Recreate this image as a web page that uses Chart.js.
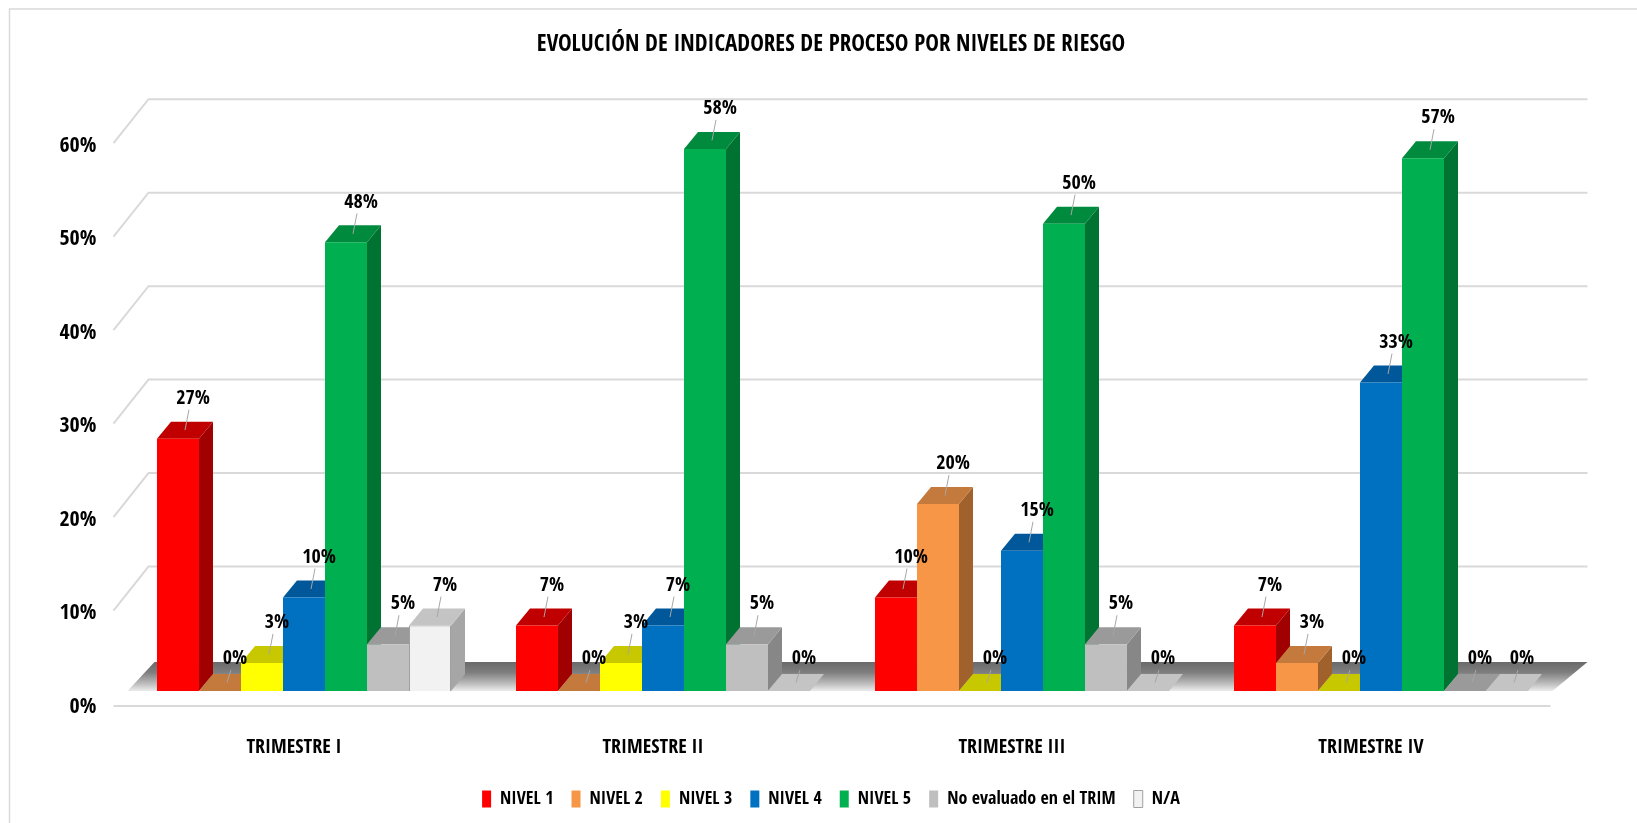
<!DOCTYPE html>
<html><head><meta charset="utf-8">
<script src="https://cdn.jsdelivr.net/npm/chart.js@4.4.0/dist/chart.umd.min.js"></script>
<style>html,body{margin:0;padding:0;background:#fff;overflow:hidden}#wrap{width:1637px;height:823px;position:relative}</style>
</head><body><div id="wrap"><canvas id="c" width="1637" height="823"></canvas></div>
<script>
// ---- data ----
const categories = ['TRIMESTRE I', 'TRIMESTRE II', 'TRIMESTRE III', 'TRIMESTRE IV'];
const seriesNames = ['NIVEL 1', 'NIVEL 2', 'NIVEL 3', 'NIVEL 4', 'NIVEL 5', 'No evaluado en el TRIM', 'N/A'];
const nivel1 = [0.27, 0.07, 0.10, 0.07];
const nivel2 = [0.00, 0.00, 0.20, 0.03];
const nivel3 = [0.03, 0.03, 0.00, 0.00];
const nivel4 = [0.10, 0.07, 0.15, 0.33];
const nivel5 = [0.48, 0.58, 0.50, 0.57];
const noEvaluado = [0.05, 0.05, 0.05, 0.00];
const noAplica = [0.07, 0.00, 0.00, 0.00];
const yTickValues = [0, 0.1, 0.2, 0.3, 0.4, 0.5, 0.6];
const titleText = 'EVOLUCIÓN DE INDICADORES DE PROCESO POR NIVELES DE RIESGO';

// ---- styles ----
const FONT = "'Open Sans Condensed', 'Roboto Condensed', 'DejaVu Sans Condensed', sans-serif";
const seriesValues = [nivel1, nivel2, nivel3, nivel4, nivel5, noEvaluado, noAplica];
const frontColors = ['#FF0000', '#F79646', '#FFFF00', '#0070C0', '#00B050', '#BFBFBF', '#F2F2F2'];
const topColors   = ['#C00000', '#C4793D', '#C8C800', '#00589A', '#008A3E', '#9A9A9A', '#C4C4C4'];
const sideColors  = ['#A00000', '#A0612C', '#A8A800', '#004E88', '#007332', '#878787', '#A6A6A6'];
const DX = 14, DY = 17;
const BACK_OFF = -31, FRONT_OFF = 13;
const fmtPct = v => Math.round(v * 100) + '%';

const threeD = {
  id: 'threeD',
  beforeDraw(chart) {
    const ctx = chart.ctx;
    ctx.save();
    ctx.strokeStyle = '#D9D9D9'; ctx.lineWidth = 1.5;
    ctx.beginPath(); ctx.moveTo(9.5, 823); ctx.lineTo(9.5, 9); ctx.lineTo(1637, 9); ctx.stroke();
    ctx.restore();
  },
  beforeDatasetsDraw(chart) {
    const ctx = chart.ctx, y = chart.scales.y, a = chart.chartArea;
    const backL = a.left + 24, backR = a.right + 27, frontL = a.left - 11, frontR = a.right - 10;
    ctx.save();
    ctx.strokeStyle = '#D9D9D9'; ctx.lineWidth = 2;
    yTickValues.forEach(v => {
      const p = y.getPixelForValue(v);
      if (v > 0) {
        ctx.beginPath();
        ctx.moveTo(frontL, p + FRONT_OFF); ctx.lineTo(backL, p + BACK_OFF); ctx.lineTo(backR, p + BACK_OFF);
        ctx.stroke();
      }
    });
    const base = y.getPixelForValue(0);
    const g = ctx.createLinearGradient(0, base - 29, 0, base);
    g.addColorStop(0, '#6a6a6a'); g.addColorStop(0.35, '#7d7d7d'); g.addColorStop(0.7, '#b5b5b5'); g.addColorStop(1, '#ececec');
    ctx.fillStyle = g;
    ctx.beginPath();
    ctx.moveTo(a.left + 3, base); ctx.lineTo(a.left + 30, base - 29);
    ctx.lineTo(a.right + 27, base - 29); ctx.lineTo(a.right - 8, base); ctx.closePath(); ctx.fill();
    ctx.beginPath(); ctx.moveTo(frontL, base + 15); ctx.lineTo(frontR, base + 15); ctx.stroke();
    const n = chart.data.labels.length;
    for (let c = 0; c < n; c++) {
      chart.data.datasets.forEach((ds, i) => {
        const bar = chart.getDatasetMeta(i).data[c];
        const { x, y: top, base: b, width } = bar.getProps(['x', 'y', 'base', 'width'], true);
        const l = x - width / 2, r = x + width / 2;
        ctx.fillStyle = sideColors[i];
        ctx.beginPath(); ctx.moveTo(r, top); ctx.lineTo(r + DX, top - DY); ctx.lineTo(r + DX, b - DY); ctx.lineTo(r, b); ctx.closePath(); ctx.fill();
        ctx.fillStyle = topColors[i];
        ctx.beginPath(); ctx.moveTo(l, top); ctx.lineTo(l + DX, top - DY); ctx.lineTo(r + DX, top - DY); ctx.lineTo(r, top); ctx.closePath(); ctx.fill();
      });
    }
    ctx.restore();
  },
  afterDatasetsDraw(chart) {
    const ctx = chart.ctx;
    ctx.save();
    ctx.font = 'bold 20px ' + FONT;
    ctx.textAlign = 'center'; ctx.textBaseline = 'middle';
    chart.data.datasets.forEach((ds, i) => {
      chart.getDatasetMeta(i).data.forEach((bar, c) => {
        const { x, y: top } = bar.getProps(['x', 'y'], true);
        const v = ds.data[c];
        const lx = x + 15, ly = top - (v > 0 ? 40 : 32);
        ctx.strokeStyle = '#A6A6A6'; ctx.lineWidth = 1;
        ctx.beginPath(); ctx.moveTo(x + DX / 2, top - DY / 2); ctx.lineTo(lx - 4, ly + 11); ctx.stroke();
        ctx.fillStyle = '#000';
        ctx.fillText(fmtPct(v), lx, ly);
      });
    });
    ctx.restore();
  }
};

new Chart(document.getElementById('c'), {
  type: 'bar',
  data: {
    labels: categories,
    datasets: seriesNames.map((name, i) => ({
      label: name,
      data: seriesValues[i],
      backgroundColor: frontColors[i],
      borderColor: i === 6 ? '#A0A0A0' : frontColors[i],
      borderWidth: ctx => (i === 6 && ctx.raw > 0) ? 1 : 0,
      categoryPercentage: 0.819,
      barPercentage: 1
    }))
  },
  options: {
    responsive: false,
    animation: false,
    devicePixelRatio: 1,
    layout: { padding: { left: 50, right: 25, top: 0, bottom: 5 } },
    scales: {
      x: {
        grid: { display: false }, border: { display: false },
        ticks: { padding: 37, labelOffset: -10, color: '#000', font: { family: FONT, size: 20, weight: 'bold' } },
        afterFit: s => { s.height = 81; }
      },
      y: {
        min: 0, max: 0.6,
        grid: { display: false, drawTicks: false }, border: { display: false },
        ticks: { stepSize: 0.1, padding: 28, labelOffset: 16, color: '#000', callback: v => fmtPct(v), font: { family: FONT, size: 22, weight: 'bold' } },
        afterFit: s => { s.width = 74.5; }
      },
      y2: {
        position: 'right', display: true, min: 0, max: 0.6,
        grid: { display: false, drawTicks: false }, border: { display: false },
        ticks: { display: false },
        afterFit: s => { s.width = 51.5; }
      }
    },
    plugins: {
      title: { display: true, text: titleText, color: '#000', padding: { top: 31, bottom: 71.6 }, font: { family: FONT, size: 23, weight: 'bold', lineHeight: 1.2 } },
      legend: {
        position: 'bottom',
        labels: { boxWidth: 9, boxHeight: 17, padding: 18, color: '#000', font: { family: FONT, size: 18, weight: 'bold' } }
      },
      tooltip: { enabled: false }
    }
  },
  plugins: [threeD]
});
</script></body></html>
